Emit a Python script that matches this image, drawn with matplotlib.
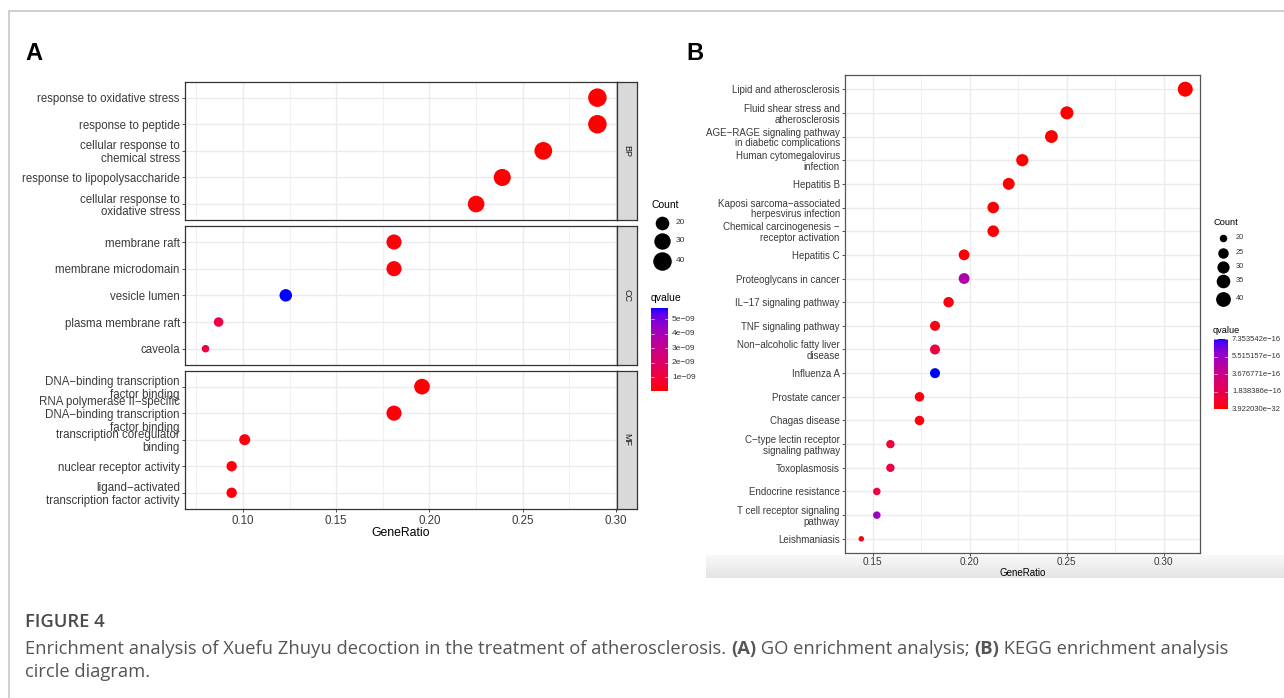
import numpy as np
import matplotlib
matplotlib.use("Agg")
import matplotlib.pyplot as plt
from matplotlib.colors import ListedColormap, Normalize
from matplotlib.ticker import MultipleLocator

W, H, DPI = 1284, 698, 100
plt.rcParams['font.family'] = ['Liberation Sans', 'DejaVu Sans']

# ---- GO enrichment (panel A) ----
bp_terms = ["response to oxidative stress", "response to peptide",
            "cellular response to\nchemical stress", "response to lipopolysaccharide",
            "cellular response to\noxidative stress"]
bp_ratio = [0.290, 0.290, 0.261, 0.239, 0.225]
bp_count = [40, 40, 36, 33, 31]
bp_qvalue = [5.5e-11, 6.1e-11, 7.4e-11, 9.0e-11, 1.1e-10]

cc_terms = ["membrane raft", "membrane microdomain", "vesicle lumen",
            "plasma membrane raft", "caveola"]
cc_ratio = [0.181, 0.181, 0.123, 0.087, 0.080]
cc_count = [25, 25, 17, 12, 11]
cc_qvalue = [1.3e-10, 1.3e-10, 5.78e-09, 1.2e-09, 1.1e-09]

mf_terms = ["DNA\u2212binding transcription\nfactor binding",
            "RNA polymerase II\u2212specific\nDNA\u2212binding transcription\nfactor binding",
            "transcription coregulator\nbinding", "nuclear receptor activity",
            "ligand\u2212activated\ntranscription factor activity"]
mf_ratio = [0.196, 0.181, 0.101, 0.094, 0.094]
mf_count = [27, 25, 14, 13, 13]
mf_qvalue = [8.0e-11, 1.5e-10, 2.0e-10, 1.8e-10, 1.8e-10]

go_count_breaks = [20, 30, 40]
go_q_breaks = [1e-09, 2e-09, 3e-09, 4e-09, 5e-09]
go_q_labels = ["1e\u221209", "2e\u221209", "3e\u221209", "4e\u221209", "5e\u221209"]

# ---- KEGG enrichment (panel B) ----
kegg_terms = ["Lipid and atherosclerosis", "Fluid shear stress and\natherosclerosis",
              "AGE\u2212RAGE signaling pathway\nin diabetic complications",
              "Human cytomegalovirus\ninfection", "Hepatitis B",
              "Kaposi sarcoma\u2212associated\nherpesvirus infection",
              "Chemical carcinogenesis \u2212\nreceptor activation", "Hepatitis C",
              "Proteoglycans in cancer", "IL\u221217 signaling pathway", "TNF signaling pathway",
              "Non\u2212alcoholic fatty liver\ndisease", "Influenza A", "Prostate cancer",
              "Chagas disease", "C\u2212type lectin receptor\nsignaling pathway", "Toxoplasmosis",
              "Endocrine resistance", "T cell receptor signaling\npathway", "Leishmaniasis"]
kegg_ratio = [0.311, 0.250, 0.242, 0.227, 0.220, 0.212, 0.212, 0.197, 0.197, 0.189,
              0.182, 0.182, 0.182, 0.174, 0.174, 0.159, 0.159, 0.152, 0.152, 0.144]
kegg_count = [41, 33, 32, 30, 29, 28, 28, 26, 26, 25, 24, 24, 24, 23, 23, 21, 21, 20, 20, 19]
kegg_qvalue = [3.922030e-32, 1.0e-20, 1.0e-19, 1.0e-18, 1.0e-18, 5.0e-18, 5.0e-18, 1.0e-17,
               4.8e-16, 2.5e-17, 2.5e-17, 1.3e-16, 7.353542e-16, 1.5e-17, 2.0e-17, 1.1e-16,
               1.6e-16, 1.4e-16, 5.4e-16, 3.5e-17]

kegg_count_breaks = [20, 25, 30, 35, 40]
kegg_q_breaks = [3.922030e-32, 1.838386e-16, 3.676771e-16, 5.515157e-16, 7.353542e-16]
kegg_q_labels = ["3.922030e\u221232", "1.838386e\u221216", "3.676771e\u221216",
                 "5.515157e\u221216", "7.353542e\u221216"]


def srgb_to_lab(rgb):
    c = np.where(rgb <= 0.04045, rgb / 12.92, ((rgb + 0.055) / 1.055) ** 2.4)
    M = np.array([[0.4124, 0.3576, 0.1805], [0.2126, 0.7152, 0.0722], [0.0193, 0.1192, 0.9505]])
    xyz = M @ c / np.array([0.95047, 1.0, 1.08883])
    f = np.where(xyz > 0.008856, np.cbrt(xyz), 7.787 * xyz + 16 / 116)
    return np.array([116 * f[1] - 16, 500 * (f[0] - f[1]), 200 * (f[1] - f[2])])


def lab_to_srgb(lab):
    fy = (lab[0] + 16) / 116
    f = np.array([fy + lab[1] / 500, fy, fy - lab[2] / 200])
    xyz = np.where(f ** 3 > 0.008856, f ** 3, (f - 16 / 116) / 7.787) * np.array([0.95047, 1.0, 1.08883])
    M = np.array([[0.4124, 0.3576, 0.1805], [0.2126, 0.7152, 0.0722], [0.0193, 0.1192, 0.9505]])
    c = np.linalg.solve(M, xyz)
    rgb = np.where(c <= 0.0031308, 12.92 * c, 1.055 * np.abs(c) ** (1 / 2.4) - 0.055)
    return np.clip(rgb, 0, 1)


# red -> blue gradient interpolated in Lab space (like ggplot)
lab_lo = srgb_to_lab(np.array([1.0, 0.0, 0.0]))
lab_hi = srgb_to_lab(np.array([0.0, 0.0, 1.0]))
CMAP = ListedColormap([lab_to_srgb(lab_lo + t * (lab_hi - lab_lo)) for t in np.linspace(0, 1, 256)])


def dot_size(count, cmin, cmax, dmin, dmax):
    d = dmin + (dmax - dmin) * np.sqrt((np.asarray(count, float) - cmin) / (cmax - cmin))
    return (d * 72 / DPI) ** 2


def px_axes(x0, y0, x1, y1):
    return fig.add_axes([x0 / W, 1 - y1 / H, (x1 - x0) / W, (y1 - y0) / H])


def style_panel(ax, border, fs):
    ax.set_facecolor("white")
    for s in ax.spines.values():
        s.set_color(border)
        s.set_linewidth(0.9)
    ax.xaxis.set_major_locator(MultipleLocator(0.05))
    ax.xaxis.set_minor_locator(MultipleLocator(0.025))
    ax.grid(which="major", color="#EBEBEB", lw=1.0)
    ax.grid(which="minor", axis="x", color="#EFEFEF", lw=0.6)
    ax.set_axisbelow(True)
    ax.tick_params(which="major", length=2.2, width=0.6, color="#333333",
                   labelcolor="#3A3A3A", labelsize=fs, pad=1.5)
    ax.tick_params(which="minor", length=0)


def dot_panel(ax, terms, ratio, count, qvalue, norm, size_args, fs):
    n = len(terms)
    y = np.arange(n)
    ax.scatter(ratio, y, s=dot_size(count, *size_args), c=qvalue, cmap=CMAP, norm=norm,
               linewidths=0, zorder=3)
    ax.set_ylim(n - 0.4, -0.6)
    ax.set_yticks(y)
    ax.set_yticklabels(terms, linespacing=1.1)
    style_panel(ax, "#333333", fs)


def colorbar(ov, x0, y0, x1, y1, vmin, vmax, breaks, labels, fs):
    grad = np.linspace(0, 1, 400)[:, None]
    ov.imshow(grad, extent=[x0, x1, y1, y0], origin="lower", aspect="auto", cmap=CMAP,
              interpolation="nearest")
    w = (x1 - x0) * 0.2
    for b, lab in zip(breaks, labels):
        yy = y1 - (b - vmin) / (vmax - vmin) * (y1 - y0)
        ov.plot([x0, x0 + w], [yy, yy], color="white", lw=0.5, alpha=0.8)
        ov.plot([x1 - w, x1], [yy, yy], color="white", lw=0.5, alpha=0.8)
        ov.text(x1 + 4, yy, lab, fontsize=fs, va="center", ha="left", color="#333333")


fig = plt.figure(figsize=(W / DPI, H / DPI), dpi=DPI)

# overlay in pixel coordinates for frame, legends, letters and caption
ov = fig.add_axes([0, 0, 1, 1])
ov.set_axis_off()

# page frame
ov.plot([9, W], [10.5, 10.5], color="#CCCCCC", lw=1.3)
ov.plot([9, 9], [10.5, H], color="#CCCCCC", lw=1.3)

# light gray band under panel B axis
band = np.linspace(0.975, 0.895, 40)[:, None, None] * np.ones((1, 1, 3))
ov.imshow(band, extent=[706, W, 578, 555], aspect="auto", interpolation="bilinear")

ov.text(25, 54, "A", fontsize=17, fontweight="bold", va="center", ha="left")
ov.text(686, 54, "B", fontsize=17, fontweight="bold", va="center", ha="left")

# ---- panel A ----
go_all_q = bp_qvalue + cc_qvalue + mf_qvalue
go_norm = Normalize(min(go_all_q), max(go_all_q))
go_size = (11, 40, 7.5, 18.5)
facets = [(bp_terms, bp_ratio, bp_count, bp_qvalue, "BP", 81.7, 220.0),
          (cc_terms, cc_ratio, cc_count, cc_qvalue, "CC", 226.0, 364.7),
          (mf_terms, mf_ratio, mf_count, mf_qvalue, "MF", 370.7, 508.7)]
for i, (terms, ratio, count, q, name, top, bottom) in enumerate(facets):
    ax = px_axes(185, top, 617, bottom)
    dot_panel(ax, terms, ratio, count, q, go_norm, go_size, 8.3)
    ax.set_xlim(0.069, 0.3005)
    if i < 2:
        ax.tick_params(axis="x", which="both", bottom=False, labelbottom=False)
    else:
        ax.tick_params(axis="x", labelsize=8.3, pad=2.5)
        ax.set_xlabel("GeneRatio", fontsize=8.8, labelpad=0)
    sax = px_axes(617, top, 637, bottom)
    sax.set_facecolor("#D9D9D9")
    for s in sax.spines.values():
        s.set_color("#333333")
        s.set_linewidth(0.9)
    sax.set_xticks([])
    sax.set_yticks([])
    sax.text(0.5, 0.5, name, rotation=-90, ha="center", va="center", fontsize=6.5,
             color="#1A1A1A", transform=sax.transAxes)

# legend A
ov.text(651, 205, "Count", fontsize=7.5, va="center", ha="left")
for c, yy in zip(go_count_breaks, [223, 241, 261]):
    ov.scatter([662], [yy], s=dot_size(c, *go_size), color="black", linewidths=0)
    ov.text(676, yy, str(c), fontsize=6, va="center", ha="left", color="#333333")
ov.text(651, 298, "qvalue", fontsize=7.5, va="center", ha="left")
colorbar(ov, 651, 308, 668, 391, go_norm.vmin, go_norm.vmax, go_q_breaks, go_q_labels, 6)

# ---- panel B ----
kegg_norm = Normalize(min(kegg_qvalue), max(kegg_qvalue))
kegg_size = (19, 41, 5.5, 15.0)
axb = px_axes(845, 75, 1200, 553)
dot_panel(axb, kegg_terms, kegg_ratio, kegg_count, kegg_qvalue, kegg_norm, kegg_size, 7.0)
for s in axb.spines.values():
    s.set_color("#555555")
axb.set_xlim(0.1356, 0.3186)
axb.tick_params(axis="x", labelsize=7.2, pad=0.8)
axb.set_xlabel("GeneRatio", fontsize=7.0, labelpad=0.5)

# legend B
ov.text(1213, 222.7, "Count", fontsize=6.7, va="center", ha="left")
for c, yy in zip(kegg_count_breaks, [237.7, 252.7, 266.7, 280.7, 299]):
    ov.scatter([1223], [yy], s=dot_size(c, *kegg_size), color="black", linewidths=0)
    ov.text(1236, yy, str(c), fontsize=5.3, va="center", ha="left", color="#333333")
ov.text(1213, 330.5, "qvalue", fontsize=6.6, va="center", ha="left")
colorbar(ov, 1214, 339.3, 1228, 409.3, kegg_norm.vmin, kegg_norm.vmax,
         kegg_q_breaks, kegg_q_labels, 5.5)

# ---- caption ----
cap_font = ["Open Sans", "DejaVu Sans"]
ov.text(25, 622, "FIGURE 4", fontsize=13.2, fontweight="semibold", family=cap_font,
        color="#4A4A4A", va="center", ha="left")
renderer = fig.canvas.get_renderer()


def seg_width(txt, **kw):
    t1 = ov.text(0, 0, txt + "|", **kw)
    t2 = ov.text(0, 0, "|", **kw)
    w = t1.get_window_extent(renderer).width - t2.get_window_extent(renderer).width
    t1.remove()
    t2.remove()
    return w


segments = [("Enrichment analysis of Xuefu Zhuyu decoction in the treatment of atherosclerosis. ", "normal"),
            ("(A)", "bold"), (" GO enrichment analysis; ", "normal"),
            ("(B)", "bold"), (" KEGG enrichment analysis", "normal")]
x = 25.0
for txt, wt in segments:
    kw = dict(fontsize=13.2, fontweight=wt, family=cap_font, color="#555555")
    ov.text(x, 649, txt, va="center", ha="left", **kw)
    x += seg_width(txt, **kw)
ov.text(25, 672, "circle diagram.", fontsize=13.2, family=cap_font, color="#555555",
        va="center", ha="left")

ov.set_xlim(0, W)
ov.set_ylim(H, 0)

fig.savefig("out.png", dpi=DPI)
